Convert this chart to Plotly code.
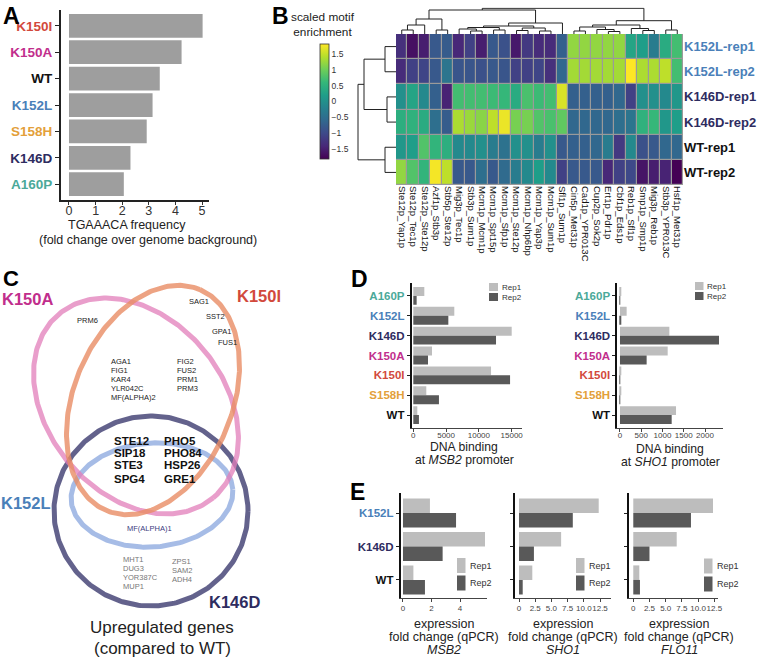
import numpy as np
import plotly.graph_objects as go

W, H = 762, 664

# ------------------------------------------------------------------ data
a_labels = ["K150I", "K150A", "WT", "K152L", "S158H", "K146D", "A160P"]
a_values = [5.02, 4.23, 3.41, 3.14, 2.92, 2.31, 2.06]

hm_rows = ["K152L-rep1", "K152L-rep2", "K146D-rep1", "K146D-rep2", "WT-rep1", "WT-rep2"]
hm_cols = ["Ste12p_Yap1p", "Ste12p_Tec1p", "Ste12p_Ste12p", "Azf1p_Stb3p", "Stb5p_Ste12p",
           "Mig3p_Tec1p", "Stb3p_Sum1p", "Mcm1p_Mcm1p", "Mcm1p_Spt15p", "Mcm1p_Sfp1p",
           "Mcm1p_Ste12p", "Mcm1p_Nhp6bp", "Mcm1p_Yap3p", "Mcm1p_Sum1p", "Sfl1p_Sum1p",
           "Cin5p_Met31p", "Cad1p_YPR013C", "Cup2p_Sok2p", "Ert1p_Pdr1p", "Cbf1p_Eds1p",
           "Reb1p_Sfl1p", "Smp1p_Smp1p", "Mig3p_Reb1p", "Stb3p_YPR013C", "Hsf1p_Met31p"]
hm_k152l_rep1 = [-1.3, -1.65, -1.5, -0.8, -0.75, -1.4, -1.1, -1.5, -0.8, -0.9, -1.55, -1.2, -1.35, -1.35, -0.7,
                 1.2, 1.2, 1.2, 1.2, 1.2, 0.3, 0.2, -0.3, 0.4, 0.7]
hm_k152l_rep2 = [-1.35, -1.1, -1.05, -0.8, -0.4, -0.85, -0.85, -0.9, -0.8, -0.85, -1.1, -1.1, -1.05, -1.3, -0.6,
                 1.3, 1.3, 1.3, 1.3, 1.3, 1.8, 1.35, 1.35, 1.45, 0.7]
hm_k146d_rep1 = [0.0, 0.3, -0.1, -0.7, -1.45, 0.7, 0.7, 0.7, 0.65, 0.6, 0.4, 0.75, 0.65, 0.7, 1.6,
                 -0.7, -0.7, -0.7, -0.7, -0.6, -1.1, 0.0, 0.0, -0.1, 0.1]
hm_k146d_rep2 = [0.45, 0.5, 0.4, -0.5, -0.75, 1.35, 1.25, 1.15, 1.45, 1.7, 1.05, 1.05, 0.8, 0.75, 0.9,
                 -0.6, -0.6, -0.6, -0.6, -0.5, -0.4, 0.5, 0.6, 0.1, 0.2]
hm_wt_rep1 = [0.1, 0.2, 0.8, 0.55, 0.45, -0.1, -0.1, 0.0, -0.3, -0.45, 0.0, 0.0, -0.3, 0.0, -0.8,
              -0.7, -0.7, -0.6, -0.3, -1.2, -0.1, -0.9, -0.8, -0.6, -0.6]
hm_wt_rep2 = [1.2, 0.8, 0.55, 1.75, 1.45, -0.8, -0.8, -0.5, -0.8, -0.55, -0.3, -0.1, 0.2, -0.1, -1.1,
              -0.8, -0.8, -0.8, -1.4, -1.1, -1.0, -1.6, -1.5, -1.45, -1.8]
cb_ticks = [1.5, 1, 0.5, 0, -0.5, -1, -1.5]
cb_ticktext = ["1.5", "1", "0.5", "0", "\u22120.5", "\u22121", "\u22121.5"]

# dendrogram merges: (node_a, node_b, height); leaves first, new nodes numbered after
col_merges = [(0, 1, 4), (25, 2, 9), (3, 4, 4), (26, 27, 15), (6, 7, 3), (5, 29, 5), (8, 9, 4),
              (30, 31, 6.5), (10, 11, 3.5), (12, 13, 3), (33, 34, 6), (32, 35, 8), (36, 14, 11),
              (28, 37, 24), (15, 16, 3), (18, 19, 2.5), (17, 40, 4.5), (39, 41, 7), (21, 22, 3.5),
              (20, 43, 5.5), (42, 44, 9), (23, 24, 4), (45, 46, 13.3), (38, 47, 25.7)]
row_merges = [(0, 1, 11), (2, 3, 9), (4, 5, 11), (6, 7, 32), (9, 8, 38)]

venn_k150a_only = ["PRM6"]
venn_k150i_only = ["SAG1", "SST2", "GPA1", "FUS1"]
venn_k150a_k150i_a = ["AGA1", "FIG1", "KAR4", "YLR042C", "MF(ALPHA)2"]
venn_k150a_k150i_b = ["FIG2", "FUS2", "PRM1", "PRM3"]
venn_all_a = ["STE12", "SIP18", "STE3", "SPG4"]
venn_all_b = ["PHO5", "PHO84", "HSP26", "GRE1"]
venn_k152l_k146d = ["MF(ALPHA)1"]
venn_k146d_only_a = ["MHT1", "DUG3", "YOR387C", "MUP1"]
venn_k146d_only_b = ["ZPS1", "SAM2", "ADH4"]

d_labels = ["A160P", "K152L", "K146D", "K150A", "K150I", "S158H", "WT"]
d_msb2_rep1 = [1680, 6250, 15000, 2850, 11850, 1980, 610]
d_msb2_rep2 = [510, 5340, 12610, 2240, 14750, 3910, 860]
d_sho1_rep1 = [12, 157, 1161, 1122, 12, 8, 1318]
d_sho1_rep2 = [6, 10, 2329, 627, 6, 6, 1216]
d_msb2_ticks = [0, 5000, 10000, 15000]
d_sho1_ticks = [0, 500, 1000, 1500, 2000]

e_labels = ["K152L", "K146D", "WT"]
e_msb2_rep1 = [1.89, 5.75, 0.73]
e_msb2_rep2 = [3.72, 2.78, 1.54]
e_sho1_rep1 = [12.3, 6.5, 2.05]
e_sho1_rep2 = [8.3, 2.3, 0.57]
e_flo11_rep1 = [12.3, 6.7, 0.93]
e_flo11_rep2 = [8.9, 2.5, 1.03]
e_msb2_ticks = [0, 2, 4]
e_fc_ticks = [0, 2.5, 5, 7.5, 10, 12.5]
e_fc_ticktext = ["0", "2.5", "5.0", "7.5", "10.0", "12.5"]

# ------------------------------------------------------------------ styles
COL = {"K150I": "#D2493C", "K150A": "#C12E8C", "WT": "#111111", "K152L": "#4A80B9",
       "S158H": "#E3A03A", "K146D": "#2E2C5F", "A160P": "#4BA999"}
REP1, REP2, ABAR = "#BDBDBD", "#595959", "#9E9E9E"
FONT = "Arial, Liberation Sans, sans-serif"


def xd(p0, p1):
    return [p0 / W, p1 / W]


def yd(top, bot):
    return [1 - bot / H, 1 - top / H]


def colored(lab, key=None):
    return f'<span style="color:{COL[key or lab]}"><b>{lab}</b></span>'


annotations, shapes = [], []


def txt(s, x, y, size, color="#111", xanchor="center", yanchor="middle", xref="paper", yref="paper"):
    if xref == "paper":
        x = x / W
    if yref == "paper":
        y = 1 - y / H
    annotations.append(dict(text=s, x=x, y=y, xref=xref, yref=yref, showarrow=False,
                            xanchor=xanchor, yanchor=yanchor,
                            font=dict(size=size, color=color, family=FONT)))


fig = go.Figure()
layout = {}

# ------------------------------------------------------------------ panel A
fig.add_trace(go.Bar(x=a_values, y=list(range(len(a_labels))), orientation="h",
                     marker=dict(color=ABAR, line=dict(width=0)), width=0.9,
                     xaxis="x", yaxis="y", showlegend=False, hoverinfo="skip"))
layout["xaxis"] = dict(domain=xd(61, 209), anchor="y", range=[-0.3, 5.26], tickvals=[0, 1, 2, 3, 4, 5],
                       ticktext=["0", "1", "2", "3", "4", "5"], tickangle=0, ticklabelstandoff=-5,
                       ticks="outside", ticklen=3, tickcolor="#333", showline=True, linecolor="#222",
                       linewidth=1.5, tickfont=dict(size=12.5, color="#333"), showgrid=False, zeroline=False)
layout["yaxis"] = dict(domain=yd(10, 200), anchor="x", range=[6.6, -0.6], tickvals=list(range(7)),
                       ticktext=[colored(l) for l in a_labels], ticks="outside", ticklen=4,
                       tickcolor="#222", showline=True, linecolor="#222", linewidth=2,
                       tickfont=dict(size=13.5), showgrid=False, zeroline=False)
txt("TGAAACA frequency", 127, 225, 12.5, "#222")
txt("(fold change over genome background)", 148, 240, 12.5, "#222")
txt("<b>A</b>", 1, 1, 23, "#000", xanchor="left", yanchor="top")

# ------------------------------------------------------------------ panel B heatmap
hm_values = [hm_k152l_rep1, hm_k152l_rep2, hm_k146d_rep1, hm_k146d_rep2, hm_wt_rep1, hm_wt_rep2]
fig.add_trace(go.Heatmap(z=hm_values, x=list(range(len(hm_cols))), y=list(range(len(hm_rows))),
                         colorscale="Viridis", zmin=-1.8, zmax=1.8, xgap=1.2, ygap=1.2,
                         xaxis="x2", yaxis="y2", hoverinfo="skip",
                         colorbar=dict(x=320 / W, xanchor="left", y=1 - 101.5 / H, yanchor="middle",
                                       len=115, lenmode="pixels", thickness=9, thicknessmode="pixels",
                                       xpad=0, ypad=0, outlinewidth=0.8, outlinecolor="#333",
                                       tickvals=cb_ticks, ticktext=cb_ticktext,
                                       tickfont=dict(size=8.5, color="#333", family=FONT), ticks="")))
shapes.append(dict(type="rect", xref="x2", yref="y2", x0=-0.5, x1=len(hm_cols) - 0.5, y0=-0.5,
                   y1=len(hm_rows) - 0.5, fillcolor="#9a9a9a", line=dict(color="#9a9a9a", width=1),
                   layer="below"))
layout["xaxis2"] = dict(domain=xd(396, 683), anchor="y2", range=[-0.5, 24.5], tickvals=list(range(25)),
                        ticktext=hm_cols, tickangle=90, ticks="", showline=False, showgrid=False,
                        zeroline=False, tickfont=dict(size=9.5, color="#111"))
layout["yaxis2"] = dict(domain=yd(34, 185), anchor="x2", side="right", range=[5.5, -0.5],
                        tickvals=list(range(6)), ticks="", showgrid=False, zeroline=False,
                        ticktext=[colored(r, r.split("-")[0]) for r in hm_rows],
                        tickfont=dict(size=13))
txt("scaled motif<br>enrichment", 357, 8, 11.8, "#222", xanchor="right", yanchor="top")
txt("<b>B</b>", 270, 1, 23, "#000", xanchor="left", yanchor="top")


def dendro(merges, n_leaves):
    pos = {i: float(i) for i in range(n_leaves)}
    hgt = {i: 0.0 for i in range(n_leaves)}
    segs = []
    for k, (a, b, h) in enumerate(merges):
        node = n_leaves + k
        segs.append(([pos[a], pos[a], pos[b], pos[b]], [hgt[a], h, h, hgt[b]]))
        pos[node] = (pos[a] + pos[b]) / 2
        hgt[node] = h
    return segs


for p, h in dendro(col_merges, len(hm_cols)):
    fig.add_trace(go.Scatter(x=p, y=h, mode="lines", line=dict(color="#222", width=1),
                             xaxis="x3", yaxis="y3", showlegend=False, hoverinfo="skip"))
for p, h in dendro(row_merges, len(hm_rows)):
    fig.add_trace(go.Scatter(x=h, y=p, mode="lines", line=dict(color="#222", width=1),
                             xaxis="x4", yaxis="y4", showlegend=False, hoverinfo="skip"))
layout["xaxis3"] = dict(domain=xd(396, 683), anchor="y3", range=[-0.5, 24.5], visible=False)
layout["yaxis3"] = dict(domain=yd(7.5, 34), anchor="x3", range=[0, 26.5], visible=False)
layout["xaxis4"] = dict(domain=xd(354, 396), anchor="y4", range=[42, 0], visible=False)
layout["yaxis4"] = dict(domain=yd(34, 185), anchor="x4", range=[5.5, -0.5], visible=False)

# ------------------------------------------------------------------ panel C venn
ellipses = [  # (cx, cy, a, b, angle, colour)
    (151, 511, 97, 95, 0, "rgba(72,70,120,0.85)"),
    (152, 495, 81, 52, -4, "rgba(150,176,226,0.85)"),
    (136, 406, 120, 88, 50, "rgba(225,125,185,0.75)"),
    (153, 400, 120, 79, -67, "rgba(232,140,100,0.8)"),
]
t = np.linspace(0, 2 * np.pi, 300)
for cx, cy, a, b, ang, c in ellipses:
    ph = np.radians(ang)
    ex = cx + a * np.cos(t) * np.cos(ph) - b * np.sin(t) * np.sin(ph)
    ey = cy + a * np.cos(t) * np.sin(ph) + b * np.sin(t) * np.cos(ph)
    fig.add_trace(go.Scatter(x=ex, y=ey, mode="lines", line=dict(color=c, width=5),
                             xaxis="x5", yaxis="y5", showlegend=False, hoverinfo="skip"))
layout["xaxis5"] = dict(domain=xd(0, 300), anchor="y5", range=[0, 300], visible=False)
layout["yaxis5"] = dict(domain=yd(270, 664), anchor="x5", range=[664, 270], visible=False)


def vt(s, x, y, size, color="#222", xanchor="center"):
    txt(s, x, y, size, color, xanchor=xanchor, xref="x5", yref="y5")


vt(colored("K150A"), 27, 299.5, 16.5)
vt(colored("K150I"), 259, 296, 16.5)
vt(colored("K152L"), 26, 503, 16.5)
vt(colored("K146D"), 234, 602, 16.5)
vt(venn_k150a_only[0], 87, 321, 7.5)
for g, (x, y) in zip(venn_k150i_only, [(199, 302), (215, 317), (221, 332), (227, 343)]):
    vt(g, x, y, 7.5)
for i, g in enumerate(venn_k150a_k150i_a):
    vt(g, 109, 362 + 8.9 * i, 7.5, xanchor="left")
for i, g in enumerate(venn_k150a_k150i_b):
    vt(g, 175, 362 + 8.9 * i, 7.5, xanchor="left")
for i, g in enumerate(venn_all_a):
    vt("<b>" + g + "</b>", 112, [441, 453, 465, 479][i], 11.5, "#111", xanchor="left")
for i, g in enumerate(venn_all_b):
    vt("<b>" + g + "</b>", 162, [441, 453, 465, 479][i], 11.5, "#111", xanchor="left")
vt(venn_k152l_k146d[0], 149, 528, 7.5, "#3b3b80")
for i, g in enumerate(venn_k146d_only_a):
    vt(g, 121, 559.5 + 9 * i, 7.5, "#777", xanchor="left")
for i, g in enumerate(venn_k146d_only_b):
    vt(g, 170, 561 + 9 * i, 7.5, "#777", xanchor="left")
txt("Upregulated genes", 162, 627, 17, "#222")
txt("(compared to WT)", 162, 648, 17, "#222")
txt("<b>C</b>", 1, 264, 22, "#000", xanchor="left", yanchor="top")


# ------------------------------------------------------------------ panels D & E
def grouped(xa, ya, r1, r2, n, w):
    fig.add_trace(go.Bar(x=r1, y=list(range(n)), orientation="h", width=w, offset=-w,
                         marker=dict(color=REP1, line=dict(width=0)), xaxis=xa, yaxis=ya,
                         showlegend=False, hoverinfo="skip"))
    fig.add_trace(go.Bar(x=r2, y=list(range(n)), orientation="h", width=w, offset=0,
                         marker=dict(color=REP2, line=dict(width=0)), xaxis=xa, yaxis=ya,
                         showlegend=False, hoverinfo="skip"))


def xax(dom, anchor, rng, tv, tt=None, standoff=-2):
    return dict(domain=dom, anchor=anchor, range=rng, tickvals=tv,
                ticktext=tt if tt is not None else [str(v) for v in tv], tickangle=0,
                ticklabelstandoff=standoff,
                ticks="outside", ticklen=3, tickcolor="#444", showline=True, linecolor="#444",
                linewidth=1.2, showgrid=False, zeroline=False, tickfont=dict(size=8, color="#444"))


def yax(dom, anchor, rng, n, labels=None):
    d = dict(domain=dom, anchor=anchor, range=rng, tickvals=list(range(n)), ticks="outside",
             ticklen=3, tickcolor="#222", showline=True, linecolor="#111", linewidth=1.8,
             showgrid=False, zeroline=False)
    if labels is None:
        d["showticklabels"] = False
    else:
        d["ticktext"] = labels
        d["tickfont"] = dict(size=11.5)
    return d


def legend(x, y1, y2, w, h, size, tx):
    for yy, c, lab in [(y1, REP1, "Rep1"), (y2, REP2, "Rep2")]:
        shapes.append(dict(type="rect", xref="paper", yref="paper", x0=x / W, x1=(x + w) / W,
                           y0=1 - (yy + h / 2) / H, y1=1 - (yy - h / 2) / H, fillcolor=c,
                           line=dict(width=0)))
        txt(lab, tx, yy, size, "#333", xanchor="left")


grouped("x6", "y6", d_msb2_rep1, d_msb2_rep2, 7, 0.45)
grouped("x7", "y7", d_sho1_rep1, d_sho1_rep2, 7, 0.45)
layout["xaxis6"] = xax(xd(411.7, 521.7), "y6", [-244, 16524], d_msb2_ticks, standoff=-4)
layout["yaxis6"] = yax(yd(283, 428), "x6", [6.65, -0.65], 7, [colored(l) for l in d_labels])
layout["xaxis7"] = xax(xd(617.3, 723), "y7", [-63, 2423], d_sho1_ticks, standoff=-4)
layout["yaxis7"] = yax(yd(283, 428), "x7", [6.65, -0.65], 7, [colored(l) for l in d_labels])
legend(489, 287, 297, 9, 8, 8, 500)
legend(695, 286, 296, 8.5, 8, 8, 705)
txt("DNA binding", 464, 447, 12.2, "#222")
txt("at <i>MSB2</i> promoter", 464, 460, 12.2, "#222")
txt("DNA binding", 670, 449, 12.2, "#222")
txt("at <i>SHO1</i> promoter", 670, 462, 12.2, "#222")
txt("<b>D</b>", 349, 264, 23, "#000", xanchor="left", yanchor="top")

grouped("x8", "y8", e_msb2_rep1, e_msb2_rep2, 3, 0.435)
grouped("x9", "y9", e_sho1_rep1, e_sho1_rep2, 3, 0.435)
grouped("x10", "y10", e_flo11_rep1, e_flo11_rep2, 3, 0.435)
e_rng = [2.54, -0.6]
layout["xaxis8"] = xax(xd(400.7, 486.7), "y8", [-0.16, 5.87], e_msb2_ticks, standoff=-1)
layout["yaxis8"] = yax(yd(493, 598), "x8", e_rng, 3, [colored(l) for l in e_labels])
layout["xaxis9"] = xax(xd(515, 610.7), "y9", [-0.62, 14.15], e_fc_ticks, e_fc_ticktext, standoff=-1)
layout["yaxis9"] = yax(yd(493, 598), "x9", e_rng, 3)
layout["xaxis10"] = xax(xd(629, 718), "y10", [-0.66, 13.07], e_fc_ticks, e_fc_ticktext, standoff=-1)
layout["yaxis10"] = yax(yd(493, 598), "x10", e_rng, 3)
legend(457, 565.5, 583, 8.5, 15, 9, 468)
legend(576, 565.5, 583, 8.5, 15, 9, 587)
legend(704, 566, 584, 8.5, 15, 9, 715)
for cx, gene in [(444, "MSB2"), (563, "SHO1"), (679, "FLO11")]:
    txt("expression", cx, 624, 12.5, "#222")
    txt("fold change (qPCR)", cx, 637, 12.5, "#222")
    txt(f"<i>{gene}</i>", cx, 650, 12.5, "#222")
txt("<b>E</b>", 348, 477, 23, "#000", xanchor="left", yanchor="top")

for k in layout:
    layout[k]["automargin"] = False
    layout[k]["fixedrange"] = True

fig.update_layout(template="none", width=W, height=H, margin=dict(l=0, r=0, t=0, b=0, pad=0),
                  paper_bgcolor="white", plot_bgcolor="white", barmode="overlay",
                  font=dict(family=FONT, color="#222"),
                  annotations=annotations, shapes=shapes, showlegend=False, **layout)
fig.write_html("out.html", config={"displayModeBar": False},
               post_script="document.body.style.margin='0';document.body.style.overflow='hidden';")
